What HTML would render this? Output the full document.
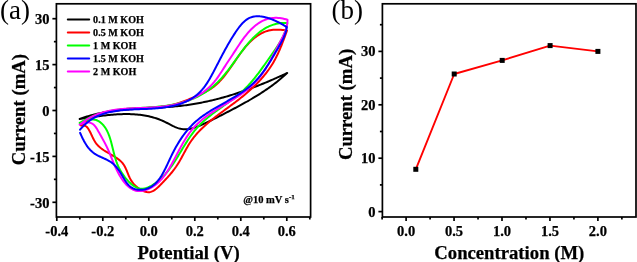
<!DOCTYPE html>
<html><head><meta charset="utf-8"><style>
html,body{margin:0;padding:0;background:#fff;}
svg{display:block;will-change:transform;}
.tl{font-family:"Liberation Serif",serif;font-weight:bold;font-size:14.5px;fill:#000;stroke:#000;stroke-width:0.25px;}
.lg{font-family:"Liberation Serif",serif;font-weight:bold;font-size:10.1px;fill:#000;stroke:#000;stroke-width:0.25px;}
.an{font-family:"Liberation Serif",serif;font-weight:bold;font-size:10.5px;fill:#000;stroke:#000;stroke-width:0.25px;}
.tt{font-family:"Liberation Serif",serif;font-weight:bold;font-size:18.7px;fill:#000;stroke:#000;stroke-width:0.25px;}
.pl{font-family:"Liberation Serif",serif;font-size:27px;fill:#000;}
</style></head><body>
<svg width="637" height="262" viewBox="0 0 637 262">
<rect x="56.40" y="3.80" width="254.20" height="213.20" fill="none" stroke="#000" stroke-width="1.70"/>
<line x1="52.40" y1="202.30" x2="56.40" y2="202.30" stroke="#000" stroke-width="1.70"/>
<text x="49.40" y="207.60" class="tl" text-anchor="end">-30</text>
<line x1="52.40" y1="156.40" x2="56.40" y2="156.40" stroke="#000" stroke-width="1.70"/>
<text x="49.40" y="161.70" class="tl" text-anchor="end">-15</text>
<line x1="52.40" y1="110.50" x2="56.40" y2="110.50" stroke="#000" stroke-width="1.70"/>
<text x="49.40" y="115.80" class="tl" text-anchor="end">0</text>
<line x1="52.40" y1="64.60" x2="56.40" y2="64.60" stroke="#000" stroke-width="1.70"/>
<text x="49.40" y="69.90" class="tl" text-anchor="end">15</text>
<line x1="52.40" y1="18.70" x2="56.40" y2="18.70" stroke="#000" stroke-width="1.70"/>
<text x="49.40" y="24.00" class="tl" text-anchor="end">30</text>
<line x1="53.90" y1="179.35" x2="56.40" y2="179.35" stroke="#000" stroke-width="1.70"/>
<line x1="53.90" y1="133.45" x2="56.40" y2="133.45" stroke="#000" stroke-width="1.70"/>
<line x1="53.90" y1="87.55" x2="56.40" y2="87.55" stroke="#000" stroke-width="1.70"/>
<line x1="53.90" y1="41.65" x2="56.40" y2="41.65" stroke="#000" stroke-width="1.70"/>
<line x1="56.80" y1="217.00" x2="56.80" y2="221.00" stroke="#000" stroke-width="1.70"/>
<text x="56.80" y="236.00" class="tl" text-anchor="middle">-0.4</text>
<line x1="102.80" y1="217.00" x2="102.80" y2="221.00" stroke="#000" stroke-width="1.70"/>
<text x="102.80" y="236.00" class="tl" text-anchor="middle">-0.2</text>
<line x1="148.80" y1="217.00" x2="148.80" y2="221.00" stroke="#000" stroke-width="1.70"/>
<text x="148.80" y="236.00" class="tl" text-anchor="middle">0.0</text>
<line x1="194.80" y1="217.00" x2="194.80" y2="221.00" stroke="#000" stroke-width="1.70"/>
<text x="194.80" y="236.00" class="tl" text-anchor="middle">0.2</text>
<line x1="240.80" y1="217.00" x2="240.80" y2="221.00" stroke="#000" stroke-width="1.70"/>
<text x="240.80" y="236.00" class="tl" text-anchor="middle">0.4</text>
<line x1="286.80" y1="217.00" x2="286.80" y2="221.00" stroke="#000" stroke-width="1.70"/>
<text x="286.80" y="236.00" class="tl" text-anchor="middle">0.6</text>
<line x1="79.80" y1="217.00" x2="79.80" y2="219.50" stroke="#000" stroke-width="1.70"/>
<line x1="125.80" y1="217.00" x2="125.80" y2="219.50" stroke="#000" stroke-width="1.70"/>
<line x1="171.80" y1="217.00" x2="171.80" y2="219.50" stroke="#000" stroke-width="1.70"/>
<line x1="217.80" y1="217.00" x2="217.80" y2="219.50" stroke="#000" stroke-width="1.70"/>
<line x1="263.80" y1="217.00" x2="263.80" y2="219.50" stroke="#000" stroke-width="1.70"/>
<line x1="309.80" y1="217.00" x2="309.80" y2="219.50" stroke="#000" stroke-width="1.70"/>
<rect x="382.40" y="3.80" width="253.60" height="213.20" fill="none" stroke="#000" stroke-width="1.70"/>
<line x1="378.40" y1="211.60" x2="382.40" y2="211.60" stroke="#000" stroke-width="1.70"/>
<text x="375.40" y="216.60" class="tl" text-anchor="end">0</text>
<line x1="378.40" y1="158.20" x2="382.40" y2="158.20" stroke="#000" stroke-width="1.70"/>
<text x="375.40" y="163.20" class="tl" text-anchor="end">10</text>
<line x1="378.40" y1="104.80" x2="382.40" y2="104.80" stroke="#000" stroke-width="1.70"/>
<text x="375.40" y="109.80" class="tl" text-anchor="end">20</text>
<line x1="378.40" y1="51.40" x2="382.40" y2="51.40" stroke="#000" stroke-width="1.70"/>
<text x="375.40" y="56.40" class="tl" text-anchor="end">30</text>
<line x1="379.90" y1="184.90" x2="382.40" y2="184.90" stroke="#000" stroke-width="1.70"/>
<line x1="379.90" y1="131.50" x2="382.40" y2="131.50" stroke="#000" stroke-width="1.70"/>
<line x1="379.90" y1="78.10" x2="382.40" y2="78.10" stroke="#000" stroke-width="1.70"/>
<line x1="379.90" y1="24.70" x2="382.40" y2="24.70" stroke="#000" stroke-width="1.70"/>
<line x1="406.10" y1="217.00" x2="406.10" y2="221.00" stroke="#000" stroke-width="1.70"/>
<text x="406.10" y="236.00" class="tl" text-anchor="middle">0.0</text>
<line x1="454.05" y1="217.00" x2="454.05" y2="221.00" stroke="#000" stroke-width="1.70"/>
<text x="454.05" y="236.00" class="tl" text-anchor="middle">0.5</text>
<line x1="502.00" y1="217.00" x2="502.00" y2="221.00" stroke="#000" stroke-width="1.70"/>
<text x="502.00" y="236.00" class="tl" text-anchor="middle">1.0</text>
<line x1="549.95" y1="217.00" x2="549.95" y2="221.00" stroke="#000" stroke-width="1.70"/>
<text x="549.95" y="236.00" class="tl" text-anchor="middle">1.5</text>
<line x1="597.90" y1="217.00" x2="597.90" y2="221.00" stroke="#000" stroke-width="1.70"/>
<text x="597.90" y="236.00" class="tl" text-anchor="middle">2.0</text>
<line x1="382.12" y1="217.00" x2="382.12" y2="219.50" stroke="#000" stroke-width="1.70"/>
<line x1="430.08" y1="217.00" x2="430.08" y2="219.50" stroke="#000" stroke-width="1.70"/>
<line x1="478.03" y1="217.00" x2="478.03" y2="219.50" stroke="#000" stroke-width="1.70"/>
<line x1="525.98" y1="217.00" x2="525.98" y2="219.50" stroke="#000" stroke-width="1.70"/>
<line x1="573.93" y1="217.00" x2="573.93" y2="219.50" stroke="#000" stroke-width="1.70"/>
<line x1="621.88" y1="217.00" x2="621.88" y2="219.50" stroke="#000" stroke-width="1.70"/>
<path d="M79.70,118.98 L81.13,118.45 L82.56,117.94 L84.00,117.45 L85.44,116.98 L86.88,116.52 L88.33,116.09 L89.78,115.67 L91.24,115.26 L92.70,114.88 L94.16,114.51 L95.63,114.15 L97.09,113.81 L98.56,113.48 L100.04,113.17 L101.52,112.87 L103.00,112.59 L104.48,112.32 L105.96,112.06 L107.45,111.81 L108.94,111.58 L110.43,111.35 L111.93,111.14 L113.42,110.94 L114.92,110.74 L116.42,110.56 L117.92,110.39 L119.43,110.22 L120.93,110.06 L122.44,109.91 L123.95,109.77 L125.46,109.64 L126.97,109.51 L128.49,109.39 L130.00,109.27 L131.52,109.16 L133.04,109.05 L134.55,108.95 L136.07,108.85 L137.59,108.76 L139.11,108.67 L140.63,108.58 L142.16,108.50 L143.68,108.41 L145.20,108.33 L146.72,108.25 L148.25,108.17 L149.77,108.09 L151.30,108.01 L152.82,107.93 L154.34,107.85 L155.87,107.77 L157.39,107.68 L158.91,107.60 L160.44,107.51 L161.96,107.41 L163.48,107.32 L165.00,107.22 L166.52,107.11 L168.04,107.00 L169.56,106.89 L171.08,106.77 L172.60,106.64 L174.11,106.51 L175.63,106.37 L177.14,106.22 L178.65,106.07 L180.16,105.91 L181.67,105.74 L183.18,105.56 L184.68,105.37 L186.19,105.17 L187.69,104.96 L189.19,104.74 L190.69,104.52 L192.18,104.28 L193.68,104.04 L195.17,103.79 L196.67,103.52 L198.16,103.25 L199.65,102.98 L201.13,102.69 L202.62,102.39 L204.10,102.09 L205.58,101.78 L207.06,101.46 L208.54,101.13 L210.02,100.79 L211.49,100.45 L212.97,100.10 L214.44,99.74 L215.91,99.37 L217.38,99.00 L218.84,98.61 L220.31,98.22 L221.77,97.83 L223.23,97.42 L224.69,97.01 L226.15,96.59 L227.61,96.17 L229.06,95.73 L230.51,95.29 L231.96,94.85 L233.41,94.40 L234.86,93.94 L236.31,93.47 L237.75,93.00 L239.19,92.52 L240.64,92.03 L242.07,91.54 L243.51,91.04 L244.95,90.54 L246.38,90.03 L247.81,89.51 L249.24,88.99 L250.67,88.46 L252.10,87.93 L253.52,87.39 L254.95,86.85 L256.37,86.30 L257.79,85.74 L259.21,85.18 L260.62,84.62 L262.04,84.05 L263.45,83.47 L264.86,82.89 L266.27,82.30 L267.68,81.71 L269.08,81.12 L270.49,80.52 L271.89,79.92 L273.29,79.31 L274.69,78.69 L276.09,78.08 L277.48,77.45 L278.87,76.83 L280.27,76.20 L281.66,75.57 L283.04,74.93 L284.43,74.29 L285.82,73.64 L287.20,72.99 L287.20,73.00 L286.07,74.04 L284.93,75.07 L283.79,76.09 L282.64,77.09 L281.48,78.08 L280.32,79.06 L279.14,80.02 L277.96,80.98 L276.78,81.92 L275.59,82.85 L274.39,83.77 L273.18,84.68 L271.97,85.58 L270.75,86.47 L269.53,87.35 L268.30,88.21 L267.07,89.07 L265.83,89.92 L264.58,90.77 L263.33,91.60 L262.08,92.42 L260.82,93.24 L259.55,94.05 L258.28,94.85 L257.01,95.64 L255.73,96.43 L254.44,97.21 L253.15,97.98 L251.86,98.74 L250.56,99.50 L249.26,100.26 L247.96,101.01 L246.65,101.75 L245.34,102.49 L244.02,103.23 L242.71,103.96 L241.38,104.68 L240.06,105.40 L238.73,106.12 L237.40,106.83 L236.07,107.55 L234.73,108.25 L233.40,108.96 L232.06,109.66 L230.71,110.36 L229.37,111.06 L228.02,111.76 L226.67,112.46 L225.32,113.15 L223.97,113.85 L222.62,114.54 L221.26,115.24 L219.91,115.93 L218.55,116.63 L217.19,117.32 L215.83,118.01 L214.47,118.70 L213.10,119.39 L211.74,120.07 L210.36,120.74 L208.99,121.41 L207.61,122.07 L206.23,122.72 L204.84,123.36 L203.45,123.99 L202.05,124.61 L200.65,125.21 L199.24,125.80 L197.83,126.37 L196.41,126.92 L194.98,127.43 L193.56,127.89 L192.13,128.31 L190.71,128.66 L189.28,128.95 L187.86,129.16 L186.44,129.28 L185.02,129.31 L183.61,129.25 L182.21,129.09 L180.81,128.84 L179.42,128.50 L178.03,128.09 L176.65,127.61 L175.28,127.06 L173.92,126.46 L172.56,125.81 L171.20,125.12 L169.85,124.42 L168.50,123.70 L167.14,122.99 L165.78,122.29 L164.41,121.62 L163.04,120.98 L161.65,120.38 L160.26,119.81 L158.87,119.27 L157.46,118.76 L156.05,118.29 L154.63,117.84 L153.20,117.42 L151.76,117.04 L150.32,116.68 L148.87,116.34 L147.41,116.03 L145.94,115.75 L144.47,115.49 L143.00,115.26 L141.51,115.04 L140.02,114.86 L138.53,114.69 L137.03,114.55 L135.52,114.42 L134.02,114.32 L132.50,114.23 L130.99,114.17 L129.47,114.12 L127.95,114.09 L126.42,114.08 L124.90,114.09 L123.37,114.11 L121.84,114.15 L120.30,114.20 L118.77,114.27 L117.24,114.35 L115.71,114.44 L114.17,114.54 L112.64,114.66 L111.11,114.79 L109.58,114.93 L108.05,115.08 L106.52,115.24 L104.99,115.40 L103.47,115.58 L101.95,115.76 L100.43,115.95 L98.92,116.15 L97.41,116.35 L95.90,116.56 L94.40,116.77 L92.90,116.98 L91.41,117.20 L89.93,117.42 L88.45,117.65 L86.97,117.87 L85.50,118.10 L84.04,118.32 L82.59,118.55 L81.14,118.77 L79.70,118.99" fill="none" stroke="#000000" stroke-width="2.00" stroke-linejoin="round" stroke-linecap="round"/>
<path d="M81.00,125.50 L82.20,124.43 L83.42,123.41 L84.66,122.43 L85.91,121.50 L87.18,120.61 L88.46,119.77 L89.76,118.96 L91.06,118.20 L92.38,117.48 L93.72,116.80 L95.06,116.15 L96.42,115.54 L97.79,114.97 L99.17,114.42 L100.56,113.92 L101.96,113.44 L103.37,112.99 L104.79,112.57 L106.22,112.18 L107.66,111.82 L109.11,111.48 L110.56,111.17 L112.03,110.88 L113.50,110.61 L114.97,110.36 L116.46,110.13 L117.95,109.92 L119.44,109.73 L120.94,109.55 L122.45,109.39 L123.96,109.25 L125.48,109.11 L127.00,108.99 L128.52,108.87 L130.05,108.77 L131.58,108.67 L133.11,108.58 L134.64,108.50 L136.18,108.42 L137.72,108.34 L139.25,108.27 L140.79,108.19 L142.33,108.12 L143.87,108.04 L145.41,107.97 L146.94,107.88 L148.48,107.80 L150.01,107.70 L151.55,107.60 L153.08,107.49 L154.60,107.37 L156.13,107.24 L157.65,107.10 L159.16,106.95 L160.68,106.78 L162.18,106.59 L163.69,106.39 L165.18,106.17 L166.67,105.93 L168.16,105.67 L169.64,105.39 L171.11,105.08 L172.57,104.76 L174.03,104.40 L175.48,104.03 L176.92,103.62 L178.35,103.19 L179.78,102.74 L181.20,102.26 L182.61,101.77 L184.02,101.26 L185.42,100.73 L186.82,100.18 L188.21,99.62 L189.60,99.05 L190.99,98.47 L192.37,97.88 L193.75,97.28 L195.13,96.68 L196.51,96.07 L197.88,95.45 L199.26,94.84 L200.63,94.21 L201.99,93.58 L203.34,92.93 L204.68,92.26 L206.00,91.57 L207.31,90.86 L208.60,90.12 L209.87,89.36 L211.12,88.56 L212.33,87.72 L213.52,86.84 L214.68,85.93 L215.82,84.97 L216.93,83.99 L218.01,82.97 L219.07,81.92 L220.11,80.85 L221.13,79.75 L222.13,78.63 L223.11,77.48 L224.08,76.32 L225.03,75.13 L225.97,73.93 L226.89,72.72 L227.81,71.49 L228.71,70.24 L229.61,68.99 L230.50,67.73 L231.38,66.46 L232.26,65.18 L233.14,63.90 L234.01,62.62 L234.89,61.34 L235.76,60.06 L236.64,58.78 L237.52,57.50 L238.41,56.23 L239.30,54.97 L240.20,53.72 L241.11,52.48 L242.03,51.25 L242.96,50.03 L243.91,48.83 L244.86,47.65 L245.84,46.48 L246.83,45.34 L247.84,44.22 L248.86,43.12 L249.91,42.05 L250.98,41.01 L252.08,39.99 L253.20,39.01 L254.34,38.05 L255.52,37.14 L256.72,36.25 L257.95,35.41 L259.20,34.61 L260.49,33.86 L261.80,33.15 L263.14,32.51 L264.50,31.92 L265.89,31.40 L267.30,30.95 L268.74,30.57 L270.20,30.26 L271.69,30.02 L273.18,29.84 L274.70,29.72 L276.22,29.66 L277.76,29.66 L279.30,29.70 L280.84,29.78 L282.39,29.91 L283.93,30.08 L285.47,30.28 L287.00,30.50 L287.01,30.50 L286.52,31.84 L286.04,33.18 L285.54,34.55 L285.05,35.92 L284.54,37.31 L284.02,38.71 L283.50,40.11 L282.97,41.52 L282.43,42.94 L281.87,44.36 L281.31,45.78 L280.73,47.21 L280.14,48.63 L279.54,50.05 L278.92,51.46 L278.29,52.87 L277.64,54.27 L276.97,55.66 L276.29,57.03 L275.59,58.40 L274.87,59.75 L274.13,61.09 L273.38,62.40 L272.60,63.70 L271.80,64.99 L270.99,66.26 L270.16,67.51 L269.31,68.75 L268.44,69.97 L267.56,71.18 L266.66,72.37 L265.75,73.55 L264.82,74.72 L263.87,75.87 L262.91,77.01 L261.94,78.14 L260.95,79.25 L259.95,80.36 L258.93,81.45 L257.90,82.53 L256.86,83.59 L255.81,84.65 L254.74,85.70 L253.67,86.73 L252.58,87.76 L251.49,88.78 L250.38,89.78 L249.26,90.78 L248.14,91.77 L247.01,92.76 L245.86,93.73 L244.71,94.70 L243.55,95.66 L242.39,96.61 L241.22,97.55 L240.04,98.49 L238.86,99.43 L237.67,100.36 L236.47,101.28 L235.27,102.20 L234.07,103.11 L232.86,104.02 L231.64,104.92 L230.43,105.82 L229.21,106.72 L227.99,107.62 L226.77,108.51 L225.55,109.41 L224.33,110.30 L223.11,111.19 L221.89,112.09 L220.68,112.98 L219.46,113.88 L218.26,114.79 L217.05,115.69 L215.85,116.61 L214.66,117.52 L213.48,118.45 L212.30,119.38 L211.13,120.31 L209.97,121.26 L208.82,122.21 L207.68,123.18 L206.55,124.15 L205.44,125.14 L204.33,126.14 L203.24,127.15 L202.16,128.17 L201.10,129.21 L200.06,130.27 L199.03,131.33 L198.02,132.42 L197.02,133.52 L196.04,134.64 L195.09,135.77 L194.15,136.93 L193.23,138.11 L192.34,139.30 L191.47,140.52 L190.62,141.76 L189.79,143.02 L188.98,144.30 L188.20,145.60 L187.43,146.92 L186.67,148.24 L185.93,149.58 L185.19,150.93 L184.46,152.28 L183.73,153.64 L183.00,154.99 L182.27,156.34 L181.54,157.69 L180.80,159.03 L180.04,160.37 L179.28,161.68 L178.50,162.99 L177.70,164.28 L176.88,165.54 L176.04,166.79 L175.18,168.01 L174.29,169.22 L173.39,170.41 L172.46,171.59 L171.52,172.75 L170.56,173.90 L169.59,175.04 L168.59,176.17 L167.59,177.30 L166.57,178.42 L165.53,179.53 L164.49,180.65 L163.43,181.76 L162.36,182.87 L161.28,183.99 L160.19,185.11 L159.09,186.21 L157.98,187.28 L156.84,188.30 L155.69,189.24 L154.51,190.09 L153.31,190.83 L152.08,191.43 L150.81,191.88 L149.51,192.15 L148.17,192.22 L146.80,192.09 L145.39,191.77 L143.99,191.30 L142.59,190.70 L141.21,189.99 L139.87,189.20 L138.57,188.32 L137.32,187.37 L136.11,186.34 L134.97,185.25 L133.89,184.09 L132.88,182.88 L131.95,181.63 L131.10,180.33 L130.34,179.00 L129.64,177.64 L129.00,176.26 L128.40,174.87 L127.83,173.48 L127.28,172.09 L126.72,170.72 L126.15,169.37 L125.55,168.04 L124.91,166.75 L124.21,165.51 L123.43,164.32 L122.58,163.19 L121.64,162.12 L120.62,161.11 L119.52,160.14 L118.37,159.22 L117.16,158.34 L115.90,157.49 L114.61,156.66 L113.28,155.85 L111.93,155.06 L110.57,154.28 L109.20,153.49 L107.83,152.71 L106.48,151.91 L105.14,151.09 L103.82,150.26 L102.54,149.40 L101.31,148.50 L100.12,147.56 L99.00,146.58 L97.94,145.54 L96.95,144.45 L96.05,143.30 L95.22,142.08 L94.45,140.82 L93.74,139.52 L93.07,138.20 L92.42,136.85 L91.78,135.49 L91.15,134.14 L90.51,132.79 L89.85,131.46 L89.15,130.16 L88.40,128.91 L87.57,127.77 L86.62,126.79 L85.52,126.02 L84.23,125.51 L82.74,125.32 L81.00,125.50" fill="none" stroke="#ff0000" stroke-width="2.00" stroke-linejoin="round" stroke-linecap="round"/>
<path d="M79.70,123.00 L81.03,122.17 L82.37,121.37 L83.72,120.60 L85.07,119.86 L86.43,119.15 L87.80,118.48 L89.18,117.82 L90.56,117.20 L91.96,116.61 L93.35,116.04 L94.76,115.50 L96.17,114.98 L97.59,114.49 L99.01,114.02 L100.44,113.58 L101.87,113.15 L103.32,112.76 L104.76,112.38 L106.22,112.02 L107.67,111.69 L109.14,111.37 L110.60,111.07 L112.08,110.79 L113.56,110.53 L115.04,110.29 L116.52,110.06 L118.02,109.85 L119.51,109.65 L121.01,109.47 L122.51,109.30 L124.02,109.14 L125.53,108.99 L127.04,108.85 L128.55,108.72 L130.07,108.60 L131.59,108.49 L133.11,108.38 L134.63,108.28 L136.16,108.18 L137.68,108.09 L139.21,108.00 L140.73,107.91 L142.26,107.82 L143.79,107.73 L145.32,107.64 L146.85,107.55 L148.37,107.45 L149.90,107.35 L151.43,107.25 L152.95,107.14 L154.48,107.02 L156.00,106.90 L157.52,106.77 L159.04,106.62 L160.55,106.47 L162.07,106.31 L163.58,106.13 L165.09,105.94 L166.59,105.74 L168.09,105.52 L169.59,105.29 L171.09,105.04 L172.58,104.77 L174.06,104.48 L175.55,104.18 L177.02,103.85 L178.49,103.50 L179.96,103.13 L181.42,102.74 L182.87,102.33 L184.31,101.90 L185.75,101.45 L187.17,100.97 L188.59,100.47 L190.00,99.95 L191.39,99.40 L192.78,98.83 L194.15,98.24 L195.51,97.62 L196.85,96.98 L198.19,96.31 L199.50,95.62 L200.81,94.91 L202.10,94.17 L203.37,93.41 L204.63,92.62 L205.88,91.81 L207.11,90.97 L208.32,90.11 L209.52,89.23 L210.70,88.33 L211.87,87.40 L213.02,86.45 L214.15,85.48 L215.27,84.48 L216.37,83.47 L217.46,82.43 L218.52,81.36 L219.57,80.28 L220.60,79.18 L221.62,78.06 L222.63,76.92 L223.62,75.76 L224.60,74.59 L225.57,73.41 L226.53,72.21 L227.47,71.00 L228.41,69.78 L229.35,68.55 L230.27,67.31 L231.19,66.07 L232.11,64.82 L233.02,63.57 L233.93,62.31 L234.83,61.05 L235.74,59.79 L236.64,58.53 L237.54,57.27 L238.45,56.01 L239.36,54.76 L240.27,53.51 L241.19,52.27 L242.11,51.03 L243.04,49.81 L243.97,48.59 L244.91,47.38 L245.86,46.19 L246.82,45.01 L247.79,43.84 L248.78,42.69 L249.77,41.56 L250.78,40.44 L251.80,39.34 L252.84,38.27 L253.89,37.21 L254.96,36.18 L256.05,35.17 L257.16,34.19 L258.28,33.23 L259.43,32.30 L260.59,31.41 L261.78,30.55 L262.99,29.72 L264.22,28.93 L265.47,28.18 L266.74,27.47 L268.04,26.81 L269.36,26.19 L270.71,25.61 L272.08,25.09 L273.48,24.62 L274.90,24.20 L276.36,23.83 L277.83,23.53 L279.34,23.28 L280.87,23.09 L282.44,22.97 L284.03,22.91 L285.65,22.92 L287.30,22.99 L287.30,23.00 L287.04,24.53 L286.73,26.03 L286.37,27.50 L285.97,28.96 L285.51,30.39 L285.02,31.80 L284.48,33.19 L283.90,34.56 L283.29,35.92 L282.65,37.26 L281.97,38.58 L281.26,39.89 L280.53,41.19 L279.77,42.48 L278.99,43.76 L278.20,45.03 L277.38,46.29 L276.55,47.54 L275.70,48.79 L274.85,50.04 L273.99,51.28 L273.12,52.52 L272.25,53.76 L271.38,55.01 L270.51,56.25 L269.64,57.49 L268.77,58.74 L267.90,59.99 L267.03,61.23 L266.16,62.48 L265.29,63.72 L264.42,64.96 L263.54,66.20 L262.66,67.43 L261.77,68.66 L260.88,69.89 L259.99,71.11 L259.09,72.32 L258.18,73.53 L257.26,74.73 L256.34,75.92 L255.40,77.11 L254.46,78.28 L253.50,79.45 L252.54,80.60 L251.57,81.74 L250.58,82.87 L249.58,83.99 L248.56,85.10 L247.54,86.19 L246.49,87.26 L245.44,88.33 L244.36,89.37 L243.27,90.40 L242.17,91.41 L241.05,92.41 L239.91,93.40 L238.76,94.36 L237.60,95.32 L236.43,96.27 L235.24,97.20 L234.05,98.13 L232.84,99.04 L231.63,99.95 L230.41,100.86 L229.19,101.75 L227.96,102.64 L226.73,103.53 L225.49,104.42 L224.26,105.30 L223.02,106.18 L221.78,107.06 L220.54,107.94 L219.31,108.83 L218.08,109.72 L216.85,110.61 L215.62,111.50 L214.41,112.41 L213.20,113.31 L211.99,114.23 L210.80,115.16 L209.61,116.09 L208.44,117.04 L207.28,117.99 L206.13,118.96 L204.99,119.94 L203.87,120.94 L202.77,121.95 L201.68,122.98 L200.61,124.03 L199.55,125.09 L198.52,126.18 L197.51,127.28 L196.52,128.41 L195.54,129.55 L194.59,130.72 L193.66,131.90 L192.74,133.10 L191.84,134.31 L190.96,135.54 L190.09,136.78 L189.23,138.03 L188.39,139.30 L187.56,140.57 L186.73,141.85 L185.92,143.14 L185.11,144.43 L184.31,145.73 L183.52,147.03 L182.73,148.33 L181.95,149.63 L181.16,150.94 L180.38,152.24 L179.60,153.54 L178.82,154.83 L178.04,156.12 L177.26,157.40 L176.47,158.68 L175.67,159.94 L174.88,161.20 L174.07,162.44 L173.26,163.68 L172.44,164.89 L171.60,166.10 L170.76,167.28 L169.90,168.46 L169.02,169.62 L168.13,170.76 L167.21,171.89 L166.26,173.01 L165.29,174.12 L164.28,175.21 L163.24,176.29 L162.17,177.36 L161.06,178.42 L159.90,179.46 L158.71,180.49 L157.46,181.51 L156.18,182.51 L154.86,183.47 L153.51,184.39 L152.14,185.25 L150.75,186.04 L149.35,186.75 L147.94,187.36 L146.53,187.87 L145.12,188.26 L143.73,188.53 L142.35,188.65 L140.99,188.63 L139.65,188.45 L138.34,188.13 L137.06,187.69 L135.80,187.12 L134.57,186.45 L133.36,185.67 L132.19,184.80 L131.04,183.86 L129.93,182.85 L128.84,181.77 L127.79,180.65 L126.77,179.48 L125.78,178.29 L124.83,177.08 L123.92,175.85 L123.04,174.61 L122.19,173.36 L121.38,172.09 L120.61,170.80 L119.87,169.49 L119.17,168.17 L118.51,166.82 L117.88,165.46 L117.30,164.07 L116.75,162.65 L116.23,161.22 L115.75,159.76 L115.29,158.29 L114.86,156.80 L114.45,155.30 L114.06,153.79 L113.67,152.27 L113.30,150.75 L112.94,149.23 L112.57,147.71 L112.20,146.20 L111.83,144.69 L111.44,143.18 L111.05,141.70 L110.63,140.22 L110.19,138.77 L109.73,137.33 L109.24,135.92 L108.71,134.53 L108.15,133.17 L107.54,131.84 L106.90,130.54 L106.20,129.28 L105.45,128.06 L104.65,126.88 L103.79,125.74 L102.86,124.67 L101.88,123.66 L100.84,122.73 L99.75,121.89 L98.59,121.15 L97.37,120.53 L96.09,120.02 L94.75,119.64 L93.35,119.41 L91.88,119.33 L90.37,119.40 L88.82,119.61 L87.24,119.94 L85.67,120.39 L84.11,120.93 L82.58,121.56 L81.11,122.25 L79.70,123.00" fill="none" stroke="#00ff00" stroke-width="2.00" stroke-linejoin="round" stroke-linecap="round"/>
<path d="M79.70,124.71 L80.94,123.67 L82.20,122.68 L83.47,121.74 L84.76,120.84 L86.05,119.98 L87.36,119.16 L88.68,118.38 L90.01,117.65 L91.35,116.95 L92.70,116.28 L94.06,115.66 L95.43,115.06 L96.81,114.50 L98.20,113.98 L99.60,113.48 L101.01,113.02 L102.42,112.58 L103.85,112.17 L105.28,111.79 L106.72,111.44 L108.16,111.11 L109.62,110.80 L111.08,110.52 L112.54,110.26 L114.02,110.02 L115.50,109.79 L116.98,109.59 L118.47,109.40 L119.96,109.23 L121.46,109.08 L122.97,108.94 L124.47,108.81 L125.98,108.69 L127.50,108.59 L129.02,108.49 L130.54,108.41 L132.06,108.33 L133.58,108.25 L135.11,108.18 L136.64,108.12 L138.17,108.06 L139.70,108.00 L141.23,107.94 L142.77,107.88 L144.30,107.82 L145.83,107.76 L147.36,107.69 L148.89,107.62 L150.43,107.55 L151.95,107.46 L153.48,107.37 L155.01,107.27 L156.53,107.16 L158.05,107.04 L159.57,106.91 L161.09,106.77 L162.60,106.60 L164.11,106.43 L165.61,106.24 L167.11,106.03 L168.61,105.80 L170.10,105.55 L171.58,105.28 L173.07,104.99 L174.54,104.67 L176.01,104.33 L177.47,103.97 L178.93,103.58 L180.37,103.17 L181.81,102.73 L183.24,102.26 L184.66,101.77 L186.07,101.26 L187.47,100.72 L188.85,100.15 L190.23,99.56 L191.59,98.94 L192.94,98.30 L194.27,97.63 L195.58,96.93 L196.89,96.21 L198.17,95.46 L199.44,94.69 L200.69,93.88 L201.92,93.05 L203.13,92.20 L204.32,91.31 L205.49,90.40 L206.64,89.46 L207.77,88.50 L208.88,87.50 L209.96,86.48 L211.02,85.43 L212.05,84.36 L213.06,83.25 L214.04,82.12 L215.00,80.95 L215.93,79.77 L216.84,78.55 L217.73,77.32 L218.60,76.07 L219.46,74.81 L220.30,73.53 L221.14,72.25 L221.96,70.96 L222.79,69.67 L223.61,68.39 L224.43,67.10 L225.26,65.83 L226.08,64.55 L226.91,63.28 L227.74,62.02 L228.58,60.76 L229.41,59.49 L230.24,58.23 L231.08,56.97 L231.92,55.71 L232.75,54.44 L233.59,53.17 L234.42,51.89 L235.26,50.61 L236.10,49.33 L236.94,48.05 L237.78,46.76 L238.63,45.48 L239.48,44.20 L240.35,42.93 L241.22,41.66 L242.10,40.40 L243.00,39.16 L243.90,37.93 L244.83,36.71 L245.77,35.51 L246.72,34.32 L247.70,33.16 L248.69,32.02 L249.71,30.90 L250.75,29.81 L251.81,28.75 L252.90,27.71 L254.01,26.71 L255.14,25.75 L256.30,24.83 L257.49,23.95 L258.70,23.12 L259.93,22.34 L261.19,21.61 L262.47,20.94 L263.78,20.33 L265.11,19.77 L266.46,19.28 L267.85,18.86 L269.25,18.52 L270.69,18.24 L272.14,18.04 L273.62,17.90 L275.11,17.84 L276.62,17.85 L278.15,17.92 L279.68,18.07 L281.23,18.28 L282.79,18.56 L284.36,18.91 L285.93,19.33 L287.50,19.81 L287.50,19.80 L287.44,21.40 L287.30,22.96 L287.09,24.48 L286.81,25.98 L286.46,27.44 L286.05,28.88 L285.59,30.29 L285.08,31.68 L284.52,33.05 L283.93,34.41 L283.31,35.76 L282.66,37.10 L281.99,38.43 L281.30,39.75 L280.61,41.08 L279.90,42.41 L279.20,43.74 L278.50,45.08 L277.81,46.42 L277.11,47.77 L276.41,49.12 L275.71,50.47 L275.02,51.83 L274.31,53.18 L273.61,54.53 L272.90,55.88 L272.18,57.23 L271.46,58.58 L270.73,59.92 L270.00,61.25 L269.25,62.58 L268.50,63.90 L267.73,65.21 L266.96,66.51 L266.17,67.81 L265.36,69.09 L264.55,70.36 L263.72,71.61 L262.87,72.85 L262.01,74.08 L261.13,75.29 L260.23,76.49 L259.31,77.66 L258.38,78.82 L257.42,79.96 L256.44,81.07 L255.43,82.17 L254.41,83.24 L253.36,84.29 L252.29,85.32 L251.19,86.33 L250.08,87.32 L248.95,88.29 L247.79,89.24 L246.63,90.17 L245.44,91.09 L244.24,92.00 L243.02,92.89 L241.79,93.76 L240.55,94.63 L239.30,95.48 L238.04,96.32 L236.76,97.16 L235.48,97.98 L234.19,98.80 L232.89,99.61 L231.59,100.42 L230.29,101.22 L228.98,102.01 L227.66,102.81 L226.35,103.60 L225.03,104.39 L223.72,105.18 L222.40,105.97 L221.09,106.77 L219.78,107.56 L218.47,108.36 L217.17,109.17 L215.88,109.98 L214.59,110.79 L213.31,111.62 L212.04,112.45 L210.78,113.29 L209.53,114.14 L208.30,115.00 L207.07,115.88 L205.86,116.77 L204.66,117.67 L203.48,118.58 L202.32,119.52 L201.18,120.47 L200.05,121.43 L198.94,122.42 L197.86,123.42 L196.79,124.45 L195.75,125.49 L194.73,126.56 L193.74,127.65 L192.77,128.77 L191.82,129.91 L190.90,131.07 L190.00,132.25 L189.12,133.45 L188.26,134.67 L187.42,135.90 L186.59,137.16 L185.78,138.42 L184.99,139.71 L184.21,141.00 L183.44,142.31 L182.68,143.62 L181.93,144.95 L181.19,146.28 L180.45,147.63 L179.72,148.97 L179.00,150.33 L178.28,151.69 L177.56,153.05 L176.85,154.41 L176.13,155.77 L175.41,157.14 L174.69,158.50 L173.97,159.86 L173.24,161.22 L172.51,162.57 L171.76,163.91 L171.01,165.25 L170.25,166.58 L169.48,167.91 L168.70,169.22 L167.90,170.51 L167.08,171.79 L166.24,173.05 L165.38,174.29 L164.49,175.51 L163.58,176.71 L162.63,177.87 L161.66,179.01 L160.65,180.12 L159.61,181.20 L158.53,182.24 L157.42,183.24 L156.26,184.21 L155.05,185.13 L153.80,186.01 L152.51,186.85 L151.19,187.62 L149.83,188.34 L148.45,188.99 L147.05,189.56 L145.64,190.05 L144.23,190.46 L142.81,190.77 L141.40,190.98 L139.99,191.09 L138.61,191.08 L137.25,190.95 L135.92,190.70 L134.62,190.32 L133.35,189.82 L132.11,189.21 L130.91,188.49 L129.74,187.68 L128.60,186.77 L127.49,185.78 L126.41,184.71 L125.37,183.58 L124.35,182.38 L123.37,181.12 L122.42,179.81 L121.51,178.47 L120.62,177.08 L119.77,175.67 L118.95,174.24 L118.16,172.79 L117.40,171.34 L116.67,169.88 L115.98,168.43 L115.32,167.00 L114.69,165.59 L114.09,164.20 L113.52,162.84 L112.97,161.50 L112.44,160.18 L111.92,158.88 L111.40,157.58 L110.89,156.29 L110.38,155.01 L109.85,153.72 L109.31,152.43 L108.76,151.13 L108.17,149.82 L107.56,148.49 L106.92,147.14 L106.24,145.78 L105.55,144.41 L104.83,143.03 L104.09,141.64 L103.34,140.25 L102.58,138.86 L101.81,137.47 L101.03,136.09 L100.26,134.71 L99.48,133.34 L98.71,131.99 L97.95,130.65 L97.19,129.34 L96.42,128.08 L95.61,126.89 L94.74,125.80 L93.81,124.84 L92.80,124.01 L91.68,123.35 L90.44,122.88 L89.08,122.61 L87.62,122.53 L86.09,122.63 L84.51,122.91 L82.90,123.35 L81.29,123.95 L79.70,124.70" fill="none" stroke="#ff00ff" stroke-width="2.00" stroke-linejoin="round" stroke-linecap="round"/>
<path d="M80.09,129.70 L81.14,128.44 L82.20,127.24 L83.29,126.09 L84.40,124.99 L85.54,123.94 L86.69,122.94 L87.86,121.99 L89.05,121.09 L90.26,120.23 L91.49,119.42 L92.74,118.65 L94.00,117.92 L95.28,117.23 L96.58,116.58 L97.89,115.97 L99.22,115.40 L100.57,114.86 L101.92,114.35 L103.30,113.88 L104.68,113.44 L106.08,113.03 L107.49,112.65 L108.91,112.30 L110.35,111.98 L111.79,111.68 L113.25,111.40 L114.71,111.15 L116.19,110.92 L117.67,110.71 L119.17,110.52 L120.67,110.34 L122.17,110.18 L123.69,110.04 L125.21,109.91 L126.73,109.80 L128.27,109.69 L129.80,109.60 L131.35,109.51 L132.89,109.44 L134.44,109.37 L135.99,109.30 L137.54,109.24 L139.10,109.18 L140.66,109.12 L142.22,109.07 L143.78,109.01 L145.33,108.95 L146.89,108.88 L148.45,108.81 L150.00,108.73 L151.56,108.65 L153.11,108.56 L154.65,108.46 L156.20,108.34 L157.74,108.22 L159.27,108.08 L160.80,107.92 L162.33,107.75 L163.85,107.56 L165.36,107.35 L166.86,107.12 L168.36,106.87 L169.85,106.60 L171.33,106.30 L172.80,105.98 L174.26,105.63 L175.71,105.26 L177.15,104.85 L178.58,104.42 L180.00,103.96 L181.40,103.46 L182.78,102.94 L184.15,102.38 L185.51,101.79 L186.84,101.17 L188.16,100.51 L189.45,99.82 L190.72,99.10 L191.97,98.34 L193.20,97.55 L194.39,96.71 L195.57,95.85 L196.71,94.94 L197.83,94.00 L198.92,93.02 L199.98,92.00 L201.00,90.94 L201.99,89.84 L202.96,88.71 L203.89,87.54 L204.80,86.34 L205.68,85.11 L206.54,83.86 L207.38,82.58 L208.20,81.29 L209.00,79.97 L209.78,78.64 L210.55,77.30 L211.30,75.94 L212.04,74.58 L212.78,73.22 L213.50,71.85 L214.22,70.48 L214.93,69.12 L215.63,67.76 L216.34,66.40 L217.04,65.05 L217.74,63.69 L218.44,62.35 L219.13,61.00 L219.83,59.66 L220.53,58.32 L221.22,56.98 L221.92,55.65 L222.63,54.32 L223.33,52.99 L224.05,51.66 L224.76,50.34 L225.48,49.02 L226.21,47.70 L226.94,46.39 L227.69,45.08 L228.44,43.77 L229.20,42.46 L229.97,41.15 L230.75,39.85 L231.54,38.55 L232.34,37.25 L233.16,35.95 L233.99,34.65 L234.83,33.36 L235.69,32.07 L236.56,30.78 L237.45,29.50 L238.36,28.23 L239.29,26.99 L240.24,25.78 L241.22,24.61 L242.23,23.49 L243.26,22.42 L244.33,21.42 L245.43,20.48 L246.57,19.63 L247.74,18.86 L248.95,18.19 L250.20,17.62 L251.50,17.16 L252.83,16.80 L254.20,16.54 L255.59,16.37 L257.02,16.29 L258.46,16.29 L259.93,16.37 L261.41,16.53 L262.91,16.76 L264.41,17.06 L265.92,17.41 L267.43,17.83 L268.94,18.30 L270.45,18.82 L271.94,19.38 L273.43,19.98 L274.90,20.62 L276.34,21.28 L277.77,21.98 L279.17,22.69 L280.54,23.43 L281.87,24.17 L283.17,24.93 L284.42,25.69 L285.63,26.45 L286.80,27.20 M286.80,27.20 L286.53,28.72 L286.20,30.20 L285.82,31.66 L285.38,33.10 L284.89,34.52 L284.35,35.91 L283.78,37.29 L283.17,38.65 L282.52,39.99 L281.85,41.33 L281.15,42.65 L280.43,43.97 L279.70,45.28 L278.95,46.58 L278.20,47.89 L277.43,49.19 L276.67,50.50 L275.91,51.81 L275.15,53.12 L274.38,54.43 L273.61,55.74 L272.84,57.04 L272.06,58.35 L271.27,59.65 L270.48,60.94 L269.68,62.23 L268.88,63.52 L268.06,64.80 L267.24,66.06 L266.40,67.32 L265.55,68.57 L264.69,69.81 L263.81,71.03 L262.92,72.25 L262.02,73.45 L261.10,74.63 L260.16,75.80 L259.21,76.95 L258.23,78.09 L257.24,79.20 L256.23,80.30 L255.19,81.37 L254.13,82.43 L253.06,83.46 L251.95,84.47 L250.83,85.46 L249.69,86.43 L248.52,87.39 L247.34,88.32 L246.14,89.23 L244.92,90.13 L243.69,91.02 L242.45,91.89 L241.19,92.74 L239.91,93.58 L238.63,94.41 L237.34,95.23 L236.03,96.04 L234.72,96.84 L233.40,97.64 L232.07,98.42 L230.74,99.20 L229.40,99.97 L228.06,100.74 L226.72,101.50 L225.37,102.27 L224.03,103.03 L222.68,103.79 L221.34,104.54 L220.00,105.30 L218.66,106.07 L217.33,106.83 L216.00,107.60 L214.68,108.37 L213.36,109.15 L212.05,109.93 L210.76,110.72 L209.47,111.52 L208.20,112.33 L206.93,113.15 L205.68,113.97 L204.45,114.81 L203.23,115.67 L202.02,116.53 L200.83,117.41 L199.67,118.31 L198.52,119.22 L197.39,120.15 L196.28,121.10 L195.19,122.07 L194.13,123.05 L193.08,124.05 L192.05,125.07 L191.05,126.11 L190.06,127.16 L189.09,128.23 L188.13,129.32 L187.20,130.43 L186.28,131.55 L185.38,132.69 L184.49,133.85 L183.62,135.02 L182.76,136.21 L181.92,137.41 L181.09,138.63 L180.27,139.87 L179.47,141.12 L178.68,142.39 L177.90,143.67 L177.14,144.97 L176.38,146.28 L175.63,147.61 L174.90,148.95 L174.17,150.31 L173.46,151.68 L172.75,153.07 L172.05,154.47 L171.35,155.89 L170.67,157.31 L169.99,158.76 L169.31,160.21 L168.64,161.67 L167.96,163.12 L167.28,164.58 L166.60,166.03 L165.91,167.48 L165.20,168.91 L164.49,170.32 L163.76,171.72 L163.01,173.09 L162.24,174.43 L161.46,175.75 L160.64,177.02 L159.80,178.26 L158.93,179.46 L158.03,180.61 L157.10,181.71 L156.12,182.76 L155.11,183.76 L154.06,184.69 L152.97,185.55 L151.83,186.35 L150.64,187.08 L149.40,187.73 L148.11,188.31 L146.77,188.80 L145.37,189.20 L143.95,189.51 L142.50,189.73 L141.03,189.85 L139.57,189.86 L138.11,189.76 L136.67,189.54 L135.27,189.21 L133.91,188.76 L132.60,188.17 L131.36,187.46 L130.19,186.61 L129.10,185.63 L128.07,184.55 L127.10,183.37 L126.17,182.11 L125.29,180.80 L124.44,179.44 L123.61,178.05 L122.79,176.66 L121.98,175.27 L121.17,173.90 L120.34,172.57 L119.50,171.27 L118.65,170.01 L117.77,168.80 L116.85,167.63 L115.91,166.51 L114.92,165.45 L113.89,164.44 L112.81,163.49 L111.67,162.60 L110.48,161.78 L109.23,161.02 L107.94,160.31 L106.61,159.64 L105.25,158.99 L103.88,158.37 L102.49,157.75 L101.11,157.13 L99.74,156.49 L98.38,155.83 L97.05,155.14 L95.76,154.40 L94.51,153.61 L93.32,152.75 L92.18,151.83 L91.10,150.83 L90.08,149.78 L89.10,148.68 L88.17,147.53 L87.28,146.33 L86.43,145.09 L85.62,143.81 L84.84,142.50 L84.09,141.17 L83.38,139.82 L82.68,138.45 L82.01,137.06 L81.36,135.68 L80.73,134.28 L80.10,132.90" fill="none" stroke="#0000ff" stroke-width="2.00" stroke-linejoin="round" stroke-linecap="round"/>
<line x1="67.8" y1="19.50" x2="89.2" y2="19.50" stroke="#000000" stroke-width="2" stroke-linecap="round"/>
<text x="93.1" y="23.10" class="lg">0.1 M KOH</text>
<line x1="67.8" y1="32.50" x2="89.2" y2="32.50" stroke="#ff0000" stroke-width="2" stroke-linecap="round"/>
<text x="93.1" y="36.10" class="lg">0.5 M KOH</text>
<line x1="67.8" y1="45.50" x2="89.2" y2="45.50" stroke="#00ff00" stroke-width="2" stroke-linecap="round"/>
<text x="93.1" y="49.10" class="lg">1 M KOH</text>
<line x1="67.8" y1="58.50" x2="89.2" y2="58.50" stroke="#0000ff" stroke-width="2" stroke-linecap="round"/>
<text x="93.1" y="62.10" class="lg">1.5 M KOH</text>
<line x1="67.8" y1="71.50" x2="89.2" y2="71.50" stroke="#ff00ff" stroke-width="2" stroke-linecap="round"/>
<text x="93.1" y="75.10" class="lg">2 M KOH</text>
<text x="243.2" y="203.4" class="an">@10 mV s<tspan dy="-4" font-size="7">-1</tspan></text>
<polyline points="415.80,169.30 454.20,74.00 502.20,60.40 550.10,45.60 597.90,51.40" fill="none" stroke="#ff0000" stroke-width="1.9" stroke-linejoin="round"/>
<rect x="413.30" y="166.80" width="5" height="5" fill="#000"/>
<rect x="451.70" y="71.50" width="5" height="5" fill="#000"/>
<rect x="499.70" y="57.90" width="5" height="5" fill="#000"/>
<rect x="547.60" y="43.10" width="5" height="5" fill="#000"/>
<rect x="595.40" y="48.90" width="5" height="5" fill="#000"/>
<text x="188.5" y="258.6" class="tt" text-anchor="middle">Potential (V)</text>
<text x="509.3" y="258.6" class="tt" text-anchor="middle">Concentration (M)</text>
<text transform="translate(25.3,109.7) rotate(-90)" class="tt" text-anchor="middle">Current (mA)</text>
<text transform="translate(352,104.5) rotate(-90)" class="tt" text-anchor="middle">Current (mA)</text>
<text x="0" y="18.6" class="pl">(a)</text>
<text x="331.5" y="18.6" class="pl">(b)</text>
</svg>
</body></html>
